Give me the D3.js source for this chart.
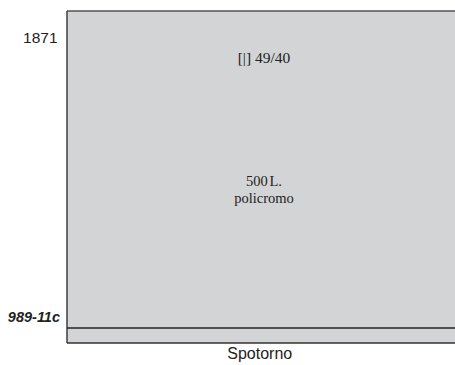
<!DOCTYPE html>
<html><head><meta charset="utf-8">
<script src="https://cdn.jsdelivr.net/npm/d3@7"></script>
<style>html,body{margin:0;padding:0;background:#fff;overflow:hidden}</style>
</head><body>
<svg id="c" width="455" height="365"></svg>
<script>
const categories = ["Spotorno"];
const rowLabels = ["1871", "989-11c"];
const cellTitle = ["[|] 49/40"];
const cellValue = ["500 L."];
const cellNote = ["policromo"];

const svg = d3.select("#c");
const W = 455, H = 365;
const m = {left: 67, top: 11, right: -2, bottom: 22};

const x = d3.scaleBand().domain(categories).range([m.left, W - m.right]).padding(0);
const y = d3.scaleLinear().domain([0, 100]).range([H - m.bottom, m.top]);

const serif = "Liberation Serif, Times New Roman, serif";
const sans = "Liberation Sans, Arial, sans-serif";

const g = svg.append("g");
categories.forEach((c, i) => {
  g.append("rect")
    .attr("x", x(c)).attr("y", y(100))
    .attr("width", x.bandwidth()).attr("height", y(0) - y(100))
    .attr("fill", "#d3d4d6");
  const cx = x(c) + x.bandwidth() / 2 + 2;
  g.append("text").attr("x", cx).attr("y", y(84.3))
    .attr("text-anchor", "middle").attr("font-family", serif)
    .attr("font-size", 15.5).attr("fill", "#222").text(cellTitle[i]);
  g.append("text").attr("x", cx).attr("y", y(47.3))
    .attr("text-anchor", "middle").attr("font-family", serif)
    .attr("font-size", 14.5).attr("word-spacing", -2).attr("fill", "#222").text(cellValue[i]);
  g.append("text").attr("x", cx).attr("y", y(42.3))
    .attr("text-anchor", "middle").attr("font-family", serif)
    .attr("font-size", 14.5).attr("fill", "#222").text(cellNote[i]);
});

// divider line
g.append("line").attr("x1", m.left).attr("x2", W)
  .attr("y1", y(4.52)).attr("y2", y(4.52))
  .attr("stroke", "#222").attr("stroke-width", 1.3);
// frame
g.append("line").attr("x1", m.left).attr("x2", W).attr("y1", y(100)).attr("y2", y(100))
  .attr("stroke", "#555").attr("stroke-width", 1.6);
g.append("line").attr("x1", m.left).attr("x2", m.left).attr("y1", y(100)).attr("y2", y(0))
  .attr("stroke", "#333").attr("stroke-width", 1.4);
g.append("line").attr("x1", m.left).attr("x2", W).attr("y1", y(0)).attr("y2", y(0))
  .attr("stroke", "#333").attr("stroke-width", 1.4);

// row labels
svg.append("text").attr("x", 57.5).attr("y", y(90.36))
  .attr("text-anchor", "end").attr("font-family", sans)
  .attr("font-size", 15.5).attr("fill", "#222").text(rowLabels[0]);
svg.append("text").attr("x", 60).attr("y", y(6.33))
  .attr("text-anchor", "end").attr("font-family", sans)
  .attr("font-size", 14.5).attr("font-weight", "bold").attr("font-style", "italic")
  .attr("fill", "#222").text(rowLabels[1]);

// x axis label
const xa = svg.append("g").attr("transform", `translate(0,${y(0)})`)
  .call(d3.axisBottom(x).tickSize(0).tickPadding(5));
xa.select(".domain").remove();
xa.selectAll("text").attr("font-family", sans)
  .attr("font-size", 16).attr("fill", "#222").attr("dx", -2.3);
</script>
</body></html>
